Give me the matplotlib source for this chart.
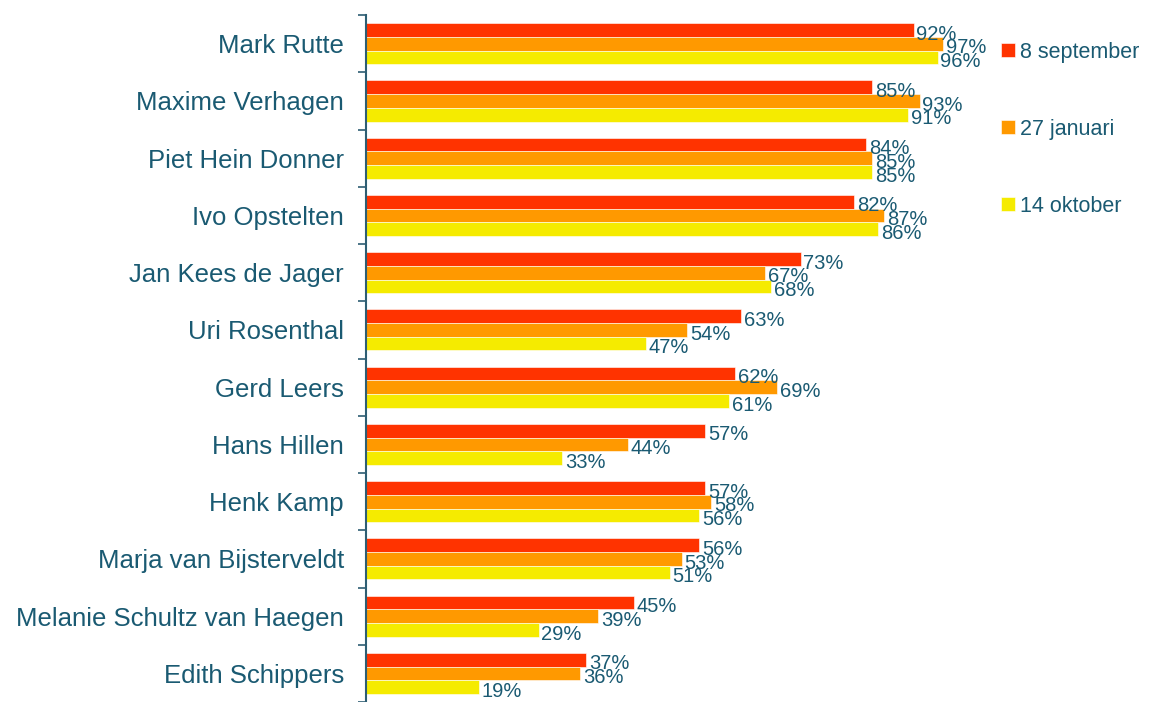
import matplotlib.pyplot as plt
import numpy as np

names = ["Mark Rutte", "Maxime Verhagen", "Piet Hein Donner", "Ivo Opstelten",
         "Jan Kees de Jager", "Uri Rosenthal", "Gerd Leers", "Hans Hillen",
         "Henk Kamp", "Marja van Bijsterveldt", "Melanie Schultz van Haegen",
         "Edith Schippers"]
sep8 = [92, 85, 84, 82, 73, 63, 62, 57, 57, 56, 45, 37]
jan27 = [97, 93, 85, 87, 67, 54, 69, 44, 58, 53, 39, 36]
okt14 = [96, 91, 85, 86, 68, 47, 61, 33, 56, 51, 29, 19]
series = ["8 september", "27 januari", "14 oktober"]
colors = ["#FF3300", "#FF9900", "#F5EB00"]
txt = "#1A5A72"

plt.rcParams['font.family'] = ['Liberation Sans', 'DejaVu Sans']

fig = plt.figure(figsize=(11.56, 7.02), dpi=100)
ax = fig.add_axes([0.3166, 0.0, 0.515, 0.9786])

y = np.arange(len(names))
h = 0.24
for i, (vals, lab, c) in enumerate(zip([sep8, jan27, okt14], series, colors)):
    pos = y - h + i * h
    ax.barh(pos, vals, height=h, color=c, label=lab, edgecolor='white', linewidth=0.4)
    for p, v in zip(pos, vals):
        ax.annotate(f"{v}%", (v, p), textcoords="offset points", xytext=(2, -3),
                    ha='left', va='center', fontsize=14.5, color=txt)

ax.set_xlim(0, 100)
ax.set_ylim(len(names) - 0.5, -0.5)
ax.set_yticks(y)
ax.set_yticklabels(names, fontsize=18.5, color=txt)
ax.tick_params(axis='y', which='major', length=0, pad=16)
ax.set_yticks(np.arange(-0.5, len(names)), minor=True)
ax.tick_params(axis='y', which='minor', length=6, width=1.2, color="#2E5E73", direction='out')
ax.set_xticks([])
for s in ['top', 'right', 'bottom']:
    ax.spines[s].set_visible(False)
ax.spines['left'].set_color("#2E5E73")
ax.spines['left'].set_linewidth(1.5)

leg = fig.legend(loc='upper left', bbox_to_anchor=(0.849, 0.968), frameon=False,
                 handlelength=0.65, handleheight=0.65, handletextpad=0.25,
                 labelspacing=2.6, fontsize=15.5)
for t in leg.get_texts():
    t.set_color(txt)

fig.savefig("out.png", dpi=100)
